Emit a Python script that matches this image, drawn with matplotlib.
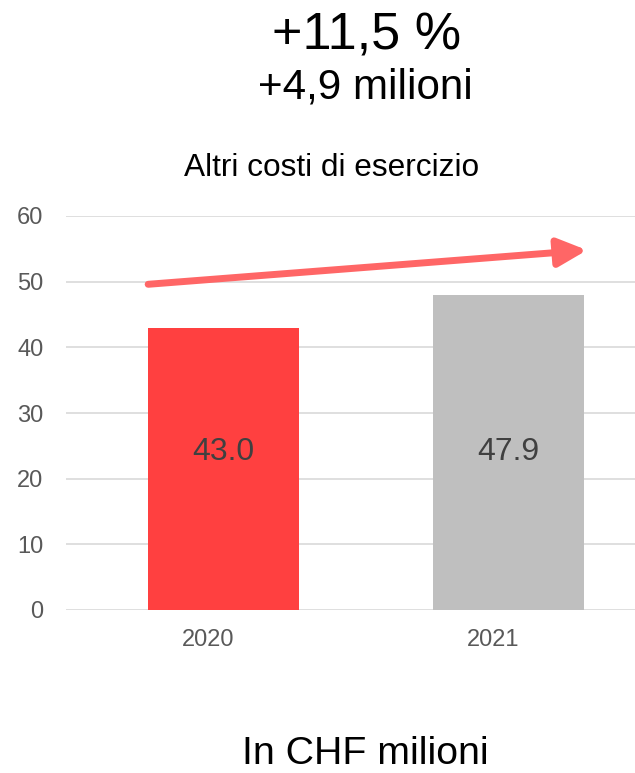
import matplotlib
matplotlib.use("Agg")
import matplotlib.pyplot as plt

plt.rcParams['font.family'] = ['Liberation Sans', 'DejaVu Sans']

categories = ["2020", "2021"]
values = [43.0, 47.9]
value_labels = ["43.0", "47.9"]
bar_colors = ["#FF4040", "#BFBFBF"]
yticks = [0, 10, 20, 30, 40, 50, 60]
headline = "+11,5 %"
subline = "+4,9 milioni"
title = "Altri costi di esercizio"
unit_note = "In CHF milioni"

fig = plt.figure(figsize=(6.35, 7.73), dpi=100)
W, H = 635, 773
ax = fig.add_axes([65.5 / W, (H - 610) / H, 570 / W, 394 / H])

x = list(range(len(categories)))
offset = 0.053
width = 0.53
ax.bar([i + offset for i in x], values, width=width, color=bar_colors, zorder=3)

label_y = 24.0
for i, lab in zip(x, value_labels):
    ax.text(i + offset, label_y, lab, ha='center', va='center',
            fontsize=23, color='#404040', zorder=4)

ax.set_xlim(-0.5, 1.5)
ax.set_ylim(0, 60)
ax.set_yticks(yticks)
ax.set_xticks(x)
ax.set_xticklabels(categories)
ax.tick_params(axis='y', length=0, pad=16, labelsize=17, labelcolor='#595959')
ax.tick_params(axis='x', length=0, pad=14, labelsize=17, labelcolor='#595959')
ax.yaxis.grid(True, color='#D9D9D9', lw=1.2, zorder=0)
ax.set_axisbelow(True)
for s in ax.spines.values():
    s.set_visible(False)

# trend arrow
ax.annotate('', xy=(1.33, 54.8), xytext=(-0.21, 49.6),
            arrowprops=dict(arrowstyle='-|>,head_length=1.75,head_width=0.85',
                            lw=5, color='#FF6666', shrinkA=0, shrinkB=0),
            zorder=5)

fig.text(367 / W, 1 - 50 / H, headline, ha='center', va='baseline',
         fontsize=37.5, color='black')
fig.text(365 / W, 1 - 98 / H, subline, ha='center', va='baseline',
         fontsize=30.3, color='black')
fig.text(332 / W, 1 - 176 / H, title, ha='center', va='baseline',
         fontsize=22.8, color='black')
fig.text(365 / W, 1 - 764 / H, unit_note, ha='center', va='baseline',
         fontsize=28.3, color='black')

fig.savefig('out.png', dpi=100)
